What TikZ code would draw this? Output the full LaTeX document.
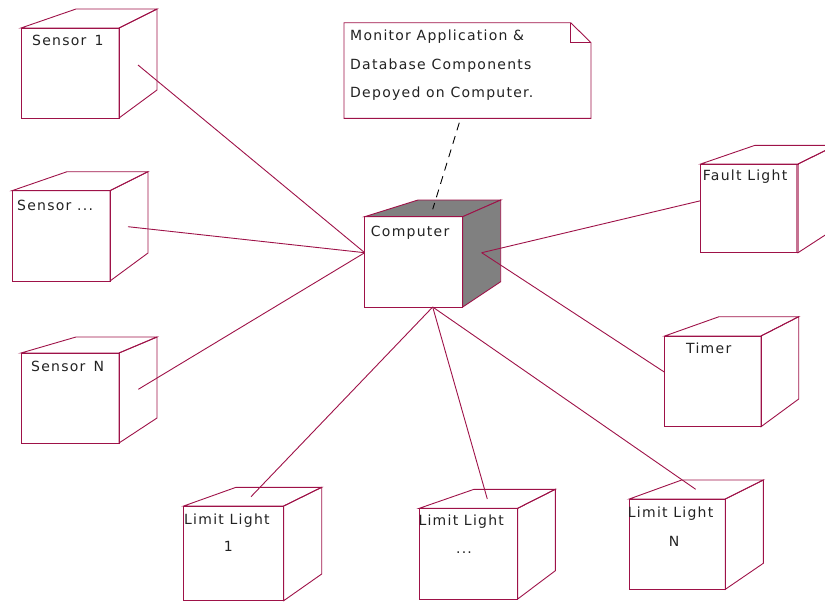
\documentclass[tikz,border=0pt]{standalone}
\usepackage{fontspec}
\setmainfont{DejaVu Sans}[LetterSpace=9]
\definecolor{edge}{RGB}{158,18,72}
\definecolor{ink}{RGB}{34,34,34}
\definecolor{shade}{RGB}{128,128,128}

% A deployment node drawn as a cube in slight perspective.
% #1 name, #2 left, #3 top, #4 right, #5 bottom of the front face,
% #6 back-left x, #7 back-right x, #8 back top y, #9 back bottom y
\newcommand\deploycube[9]{%
  \path[cubeface] (#2,#3) -- (#6,#8) -- (#7,#8) -- (#4,#3) -- cycle;
  \path[cubeface] (#4,#3) -- (#7,#8) -- (#7,#9) -- (#4,#5) -- cycle;
  \draw[edge line] (#2,#3) rectangle (#4,#5);
  \coordinate (#1-nw) at (#2,#3);
  \coordinate (#1-se) at (#4,#5);
}

\tikzset{
  edge line/.style={draw=edge, line width=0.9pt},
  cubeface/.style={edge line},
  label/.style={font=\fontsize{14}{16}\selectfont, text=ink, inner sep=0pt, anchor=base west},
  sublabel/.style={label, anchor=base},
  link/.style={draw=edge, line width=0.9pt},
  anchorlink/.style={draw=black, line width=0.9pt, dash pattern=on 8pt off 6pt}
}

\begin{document}
\begin{tikzpicture}[x=1pt, y=-1pt]
\useasboundingbox (0,0) rectangle (825,603);

% note attached to the computer
\draw[edge line, fill=white] (344,22.7) -- (570.7,22.7) -- (591,42.7) -- (591,118.3) -- (344,118.3) -- cycle;
\draw[edge line] (570.7,22.7) -- (570.7,42.7) -- (591,42.7);
\node[label] (note1) at (350,40.7) {Monitor Application \&};
\node[label] (note2) at (350,69) {Database Components};
\node[label] (note3) at (350,97.3) {Depoyed on Computer.};
\coordinate (note-s) at (459.3,122.7);

% sensors
\deploycube{s1}{21}{28}{119}{118}{76}{157}{9}{90}
\node[label] (s1-label) at (32,45) {Sensor\, 1};
\coordinate (s1-port) at (138,65);

\deploycube{sx}{12}{190.7}{110}{281}{67}{148}{171.7}{253}
\node[label] (sx-label) at (17,210.7) {Sensor ...};
\coordinate (sx-port) at (128,226.7);

\deploycube{sn}{21}{353}{119}{443}{76}{157}{337}{418}
\node[label] (sn-label) at (31,371.7) {Sensor\, N};
\coordinate (sn-port) at (138.3,389.3);

% computer
\begin{scope}[cubeface/.style={edge line, fill=shade}]
\deploycube{pc}{364.7}{216.7}{462.7}{307}{418}{500.7}{200}{281.7}
\end{scope}
\node[label] (pc-label) at (370.7,236) {Computer};
\coordinate (pc-w) at (364.7,252.7);
\coordinate (pc-e) at (481.7,252.7);
\coordinate (pc-s) at (432.7,307);
\coordinate (pc-top) at (432.7,209.3);

% outputs on the right
\deploycube{fl}{700.7}{164}{798}{252.7}{755}{836}{145.3}{228}
\draw[edge!60, line width=2.4pt] (797.6,164.5) -- (797.6,252.2);
\node[label] (fl-label) at (702.7,180.7) {Fault Light};
\coordinate (fl-port) at (700.7,200.7);

\deploycube{tm}{664.7}{336}{761}{426.7}{719}{798.7}{316.7}{399}
\node[label] (tm-label) at (686,353.3) {Timer};
\coordinate (tm-port) at (664.7,372.3);

% limit lights along the bottom
\deploycube{l1}{183.7}{506}{283.7}{600.7}{236}{321.7}{487.3}{574}
\node[label] (l1-label) at (184,524) {Limit Light};
\node[sublabel] (l1-num) at (228.3,551.7) {1};
\coordinate (l1-port) at (251,496.7);

\deploycube{lx}{419.3}{508.3}{517.7}{599}{474}{555.3}{489.3}{570.7}
\node[label] (lx-label) at (418.3,525) {Limit Light};
\node[sublabel] (lx-num) at (464,553.3) {...};
\coordinate (lx-port) at (487.3,499);

\deploycube{ln}{629.3}{499}{725.3}{589.3}{681.7}{763.3}{480}{563.3}
\node[label] (ln-label) at (627.7,517.7) {Limit Light};
\node[sublabel] (ln-num) at (674,546) {N};
\coordinate (ln-port) at (695.7,489.3);

% connectors
\draw[anchorlink] (note-s) -- (pc-top);
\draw[link] (s1-port) -- (pc-w);
\draw[link] (sx-port) -- (pc-w);
\draw[link] (sn-port) -- (pc-w);
\draw[link] (fl-port) -- (pc-e);
\draw[link] (tm-port) -- (pc-e);
\draw[link] (l1-port) -- (pc-s);
\draw[link] (lx-port) -- (pc-s);
\draw[link] (ln-port) -- (pc-s);
\end{tikzpicture}
\end{document}
